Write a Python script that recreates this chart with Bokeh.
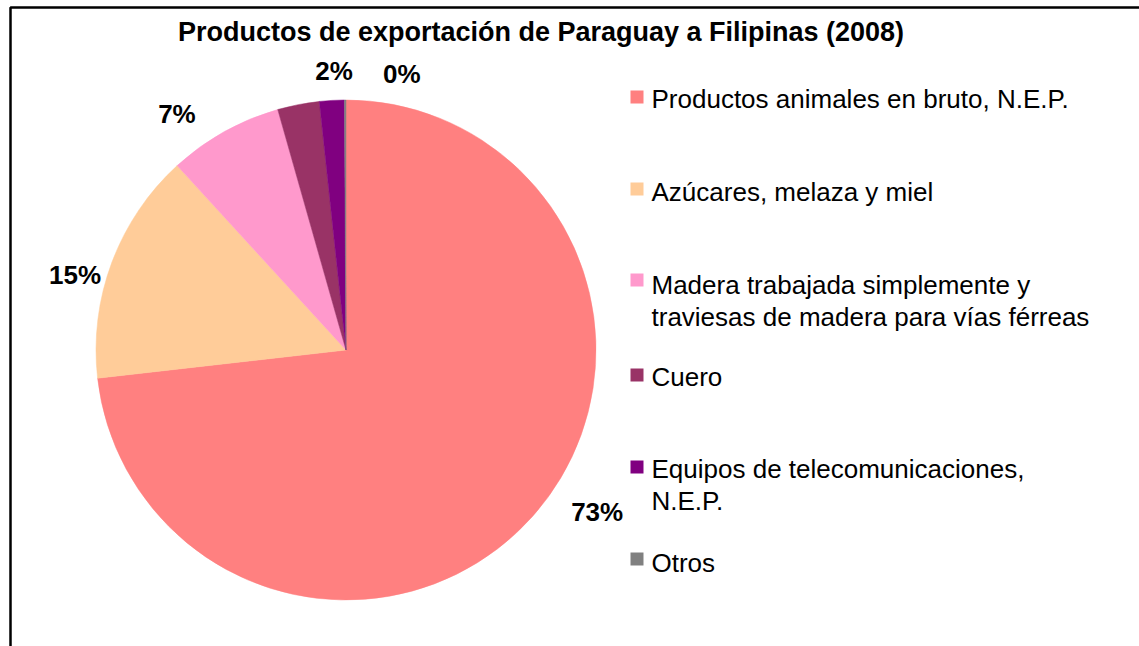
import math
from bokeh.plotting import figure
from bokeh.models import Range1d, ColumnDataSource
from bokeh.core.properties import value
from bokeh.embed import file_html
from bokeh.resources import INLINE

# ---- data ----
title = "Productos de exportación de Paraguay a Filipinas (2008)"
categories = [
    "Productos animales en bruto, N.E.P.",
    "Azúcares, melaza y miel",
    "Madera trabajada simplemente y\ntraviesas de madera para vías férreas",
    "Cuero",
    "Equipos de telecomunicaciones,\nN.E.P.",
    "Otros",
]
shares = [73.2, 15.0, 7.4, 2.7, 1.6, 0.1]
show_label = [True, True, True, False, True, True]
colors = ["#FF8080", "#FFCC99", "#FF99CC", "#993366", "#800080", "#808080"]

# ---- layout / style ----
W, H = 1139, 646
FONT = value("Liberation Sans")


def sy(y):
    return H - y


cx, cy, R = 345.5, sy(349.5), 250
label_radius = [299, 281, 290, 285, 279, 282]
label_nudge_deg = [8.9, 5.1, 6.5, 0.0, -0.8, -11.6]
legend_square_top = [90, 182, 273, 368, 460, 552]
legend_mid = [98.5, 191, 284, 376, 468, 562]
line_gap = 32

p = figure(width=W, height=H, x_range=Range1d(0, W), y_range=Range1d(0, H),
           output_backend="svg", toolbar_location=None, min_border=0)
p.xaxis.visible = False
p.yaxis.visible = False
p.xgrid.visible = False
p.ygrid.visible = False
p.outline_line_color = None
p.background_fill_color = "white"
p.border_fill_color = "white"

# frame lines (top, left)
p.line(x=[10, 10, W], y=[0, sy(7), sy(7)], line_color="black", line_width=2.5)

# pie wedges (clockwise from 12 o'clock)
total = sum(shares)
starts, ends = [], []
cum = 0.0
for v in shares:
    starts.append(math.pi / 2 - 2 * math.pi * cum / total)
    cum += v
    ends.append(math.pi / 2 - 2 * math.pi * cum / total)
src = ColumnDataSource(dict(start=starts, end=ends, color=colors))
p.wedge(x=cx, y=cy, radius=R, start_angle="start", end_angle="end", direction="clock",
        fill_color="color", line_color="color", line_width=0.5, source=src)

# data labels
lx, ly, lt = [], [], []
for i, v in enumerate(shares):
    if not show_label[i]:
        continue
    mid = (starts[i] + ends[i]) / 2 + math.radians(label_nudge_deg[i])
    lx.append(cx + label_radius[i] * math.cos(mid))
    ly.append(cy + label_radius[i] * math.sin(mid))
    lt.append(f"{round(v)}%")
p.text(x=lx, y=ly, text=lt, text_font=FONT, text_font_style="bold", text_font_size="26px",
       text_align="center", text_baseline="middle", text_color="black")

# title
p.text(x=[540.5], y=[sy(31)], text=[title], text_font=FONT, text_font_style="bold",
       text_font_size="27px", text_align="center", text_baseline="middle", text_color="black")

# legend (manual)
for i, name in enumerate(categories):
    top = legend_square_top[i]
    p.quad(left=630, right=643, top=sy(top), bottom=sy(top + 13),
           fill_color=colors[i], line_color=None)
    for j, line in enumerate(name.split("\n")):
        p.text(x=[651], y=[sy(legend_mid[i] + j * line_gap)], text=[line],
               text_font=FONT, text_font_size="26px", text_align="left",
               text_baseline="middle", text_color="black")

open("out.html", "w").write(file_html(p, INLINE))
